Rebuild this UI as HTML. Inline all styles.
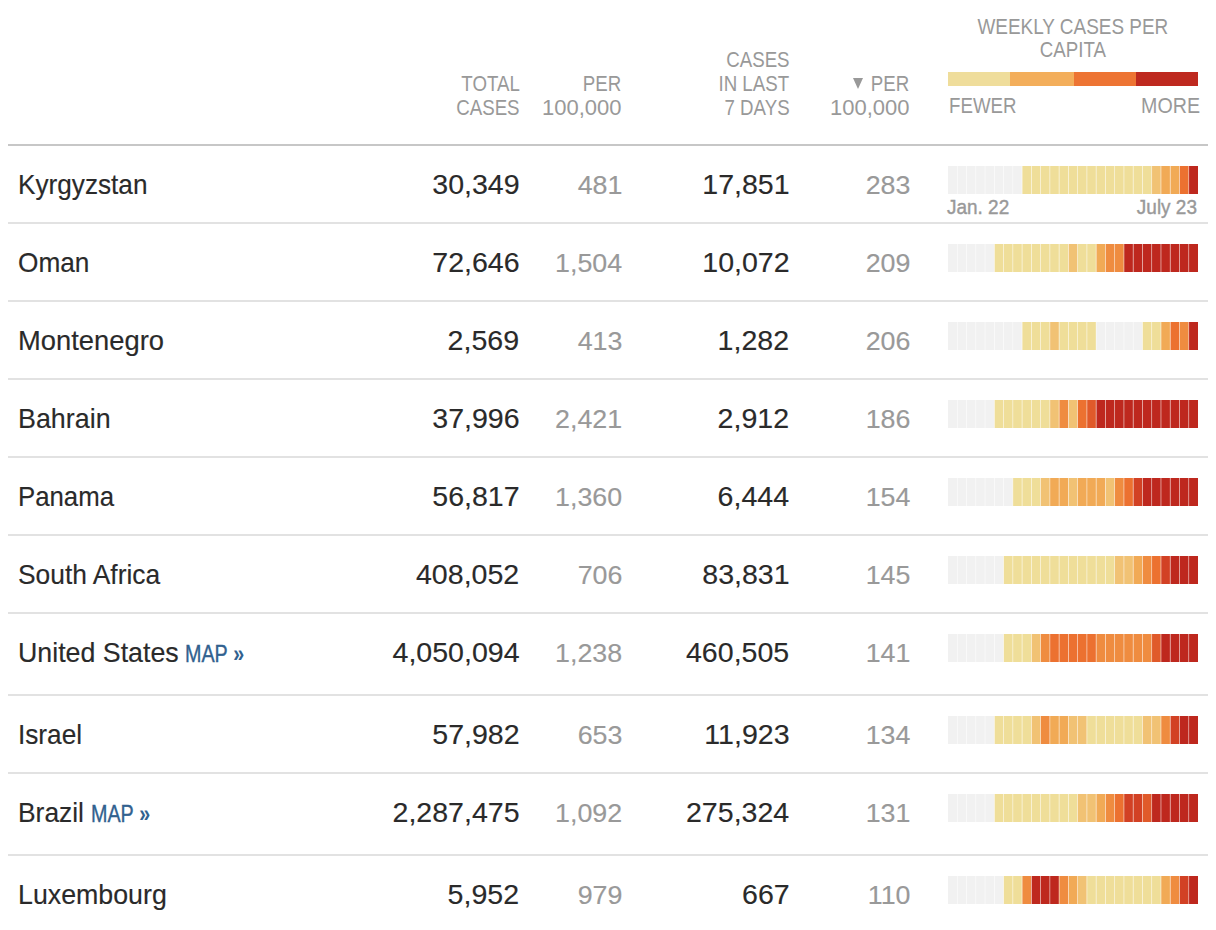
<!DOCTYPE html>
<html><head><meta charset="utf-8"><style>
html,body{margin:0;padding:0;background:#fff;}
body{width:1216px;height:930px;overflow:hidden;position:relative;font-family:"Liberation Sans",sans-serif;}
.t{position:absolute;white-space:nowrap;}
.bar{position:absolute;display:block;}
.leg{position:absolute;height:14px;}
.hl{position:absolute;left:8px;width:1200px;height:2px;}
.map{-webkit-text-stroke:0.35px #31618f;}
.tri{position:absolute;width:0;height:0;border-left:5.9px solid transparent;border-right:5.9px solid transparent;border-top:11.8px solid #999;}
</style></head><body>
<div class="t" style="right:696.5px;top:72.68px;font-size:22px;line-height:22px;color:#999;font-weight:normal;transform:scaleX(0.85);transform-origin:right center;">TOTAL</div>
<div class="t" style="right:696.5px;top:96.68px;font-size:22px;line-height:22px;color:#999;font-weight:normal;transform:scaleX(0.85);transform-origin:right center;">CASES</div>
<div class="t" style="right:594.5px;top:72.68px;font-size:22px;line-height:22px;color:#999;font-weight:normal;transform:scaleX(0.85);transform-origin:right center;">PER</div>
<div class="t" style="right:594.5px;top:96.68px;font-size:22px;line-height:22px;color:#999;font-weight:normal;">100,000</div>
<div class="t" style="right:426.5px;top:48.68px;font-size:22px;line-height:22px;color:#999;font-weight:normal;transform:scaleX(0.85);transform-origin:right center;">CASES</div>
<div class="t" style="right:426.5px;top:72.68px;font-size:22px;line-height:22px;color:#999;font-weight:normal;transform:scaleX(0.85);transform-origin:right center;">IN LAST</div>
<div class="t" style="right:426.5px;top:96.68px;font-size:22px;line-height:22px;color:#999;font-weight:normal;transform:scaleX(0.85);transform-origin:right center;">7 DAYS</div>
<div class="t" style="right:306.5px;top:72.68px;font-size:22px;line-height:22px;color:#999;font-weight:normal;transform:scaleX(0.85);transform-origin:right center;">PER</div>
<div class="tri" style="left:853px;top:78px"></div>
<div class="t" style="right:306.5px;top:96.68px;font-size:22px;line-height:22px;color:#999;font-weight:normal;">100,000</div>
<div class="t" style="left:773px;width:600px;text-align:center;top:15.78px;font-size:22px;line-height:22px;color:#999;"><span style="display:inline-block;transform:scaleX(0.861);transform-origin:center center;">WEEKLY CASES PER</span></div>
<div class="t" style="left:773.2px;width:600px;text-align:center;top:39.38px;font-size:22px;line-height:22px;color:#999;"><span style="display:inline-block;transform:scaleX(0.85);transform-origin:center center;">CAPITA</span></div>
<div class="leg" style="left:948px;top:72px;width:62px;background:#efdd9b"></div>
<div class="leg" style="left:1010px;top:72px;width:64px;background:#f3ae5b"></div>
<div class="leg" style="left:1074px;top:72px;width:62px;background:#ed7433"></div>
<div class="leg" style="left:1136px;top:72px;width:62px;background:#be291f"></div>
<div class="t" style="left:948.5px;top:95.18px;font-size:22px;line-height:22px;color:#999;font-weight:normal;transform:scaleX(0.85);transform-origin:left center;">FEWER</div>
<div class="t" style="right:15.799999999999955px;top:95.18px;font-size:22px;line-height:22px;color:#999;font-weight:normal;transform:scaleX(0.893);transform-origin:right center;">MORE</div>
<div class="hl" style="top:144px;background:#c7c7c7"></div>
<div class="t" style="left:17.53px;top:170.50px;font-size:28px;line-height:28px;color:#2a2a2a;font-weight:normal;transform:scaleX(0.9348);transform-origin:left center;-webkit-text-stroke:0.15px #2a2a2a;">Kyrgyzstan</div>
<div class="t" style="right:696.5px;top:170.50px;font-size:28px;line-height:28px;color:#2a2a2a;font-weight:normal;transform:scaleX(1.02);transform-origin:right center;-webkit-text-stroke:0.15px #2a2a2a;">30,349</div>
<div class="t" style="right:594px;top:172.19px;font-size:26px;line-height:26px;color:#999;font-weight:normal;transform:scaleX(1.03);transform-origin:right center;-webkit-text-stroke:0.15px #999;">481</div>
<div class="t" style="right:426.5px;top:170.50px;font-size:28px;line-height:28px;color:#2a2a2a;font-weight:normal;transform:scaleX(1.02);transform-origin:right center;-webkit-text-stroke:0.15px #2a2a2a;">17,851</div>
<div class="t" style="right:306px;top:172.19px;font-size:26px;line-height:26px;color:#999;font-weight:normal;transform:scaleX(1.03);transform-origin:right center;-webkit-text-stroke:0.15px #999;">283</div>
<svg class="bar" style="left:948px;top:166px" width="250" height="28" viewBox="0 0 250 28"><rect x="0.000" y="0" width="9.559" height="28" fill="#f1f1f1"/><rect x="9.259" y="0" width="9.559" height="28" fill="#f1f1f1"/><rect x="18.519" y="0" width="9.559" height="28" fill="#f1f1f1"/><rect x="27.778" y="0" width="9.559" height="28" fill="#f1f1f1"/><rect x="37.037" y="0" width="9.559" height="28" fill="#f1f1f1"/><rect x="46.296" y="0" width="9.559" height="28" fill="#f1f1f1"/><rect x="55.556" y="0" width="9.559" height="28" fill="#f1f1f1"/><rect x="64.815" y="0" width="9.559" height="28" fill="#f1f1f1"/><rect x="74.074" y="0" width="9.559" height="28" fill="#efde99"/><rect x="83.333" y="0" width="9.559" height="28" fill="#efde99"/><rect x="92.593" y="0" width="9.559" height="28" fill="#efde99"/><rect x="101.852" y="0" width="9.559" height="28" fill="#efde99"/><rect x="111.111" y="0" width="9.559" height="28" fill="#efde99"/><rect x="120.370" y="0" width="9.559" height="28" fill="#efde99"/><rect x="129.630" y="0" width="9.559" height="28" fill="#efde99"/><rect x="138.889" y="0" width="9.559" height="28" fill="#efde99"/><rect x="148.148" y="0" width="9.559" height="28" fill="#efde99"/><rect x="157.407" y="0" width="9.559" height="28" fill="#efde99"/><rect x="166.667" y="0" width="9.559" height="28" fill="#efde99"/><rect x="175.926" y="0" width="9.559" height="28" fill="#efde99"/><rect x="185.185" y="0" width="9.559" height="28" fill="#efde99"/><rect x="194.444" y="0" width="9.559" height="28" fill="#efde99"/><rect x="203.704" y="0" width="9.559" height="28" fill="#f1c274"/><rect x="212.963" y="0" width="9.559" height="28" fill="#f1aa56"/><rect x="222.222" y="0" width="9.559" height="28" fill="#f1aa56"/><rect x="231.481" y="0" width="9.559" height="28" fill="#ec7130"/><rect x="240.741" y="0" width="9.259" height="28" fill="#be281e"/><rect x="8.909" y="0" width="0.7" height="28" fill="#fff" fill-opacity="0.75"/><rect x="18.169" y="0" width="0.7" height="28" fill="#fff" fill-opacity="0.75"/><rect x="27.428" y="0" width="0.7" height="28" fill="#fff" fill-opacity="0.75"/><rect x="36.687" y="0" width="0.7" height="28" fill="#fff" fill-opacity="0.75"/><rect x="45.946" y="0" width="0.7" height="28" fill="#fff" fill-opacity="0.75"/><rect x="55.206" y="0" width="0.7" height="28" fill="#fff" fill-opacity="0.75"/><rect x="64.465" y="0" width="0.7" height="28" fill="#fff" fill-opacity="0.75"/><rect x="73.724" y="0" width="0.7" height="28" fill="#fff" fill-opacity="0.75"/><rect x="82.983" y="0" width="0.7" height="28" fill="#fff" fill-opacity="0.75"/><rect x="92.243" y="0" width="0.7" height="28" fill="#fff" fill-opacity="0.75"/><rect x="101.502" y="0" width="0.7" height="28" fill="#fff" fill-opacity="0.75"/><rect x="110.761" y="0" width="0.7" height="28" fill="#fff" fill-opacity="0.75"/><rect x="120.020" y="0" width="0.7" height="28" fill="#fff" fill-opacity="0.75"/><rect x="129.280" y="0" width="0.7" height="28" fill="#fff" fill-opacity="0.75"/><rect x="138.539" y="0" width="0.7" height="28" fill="#fff" fill-opacity="0.75"/><rect x="147.798" y="0" width="0.7" height="28" fill="#fff" fill-opacity="0.75"/><rect x="157.057" y="0" width="0.7" height="28" fill="#fff" fill-opacity="0.75"/><rect x="166.317" y="0" width="0.7" height="28" fill="#fff" fill-opacity="0.75"/><rect x="175.576" y="0" width="0.7" height="28" fill="#fff" fill-opacity="0.75"/><rect x="184.835" y="0" width="0.7" height="28" fill="#fff" fill-opacity="0.75"/><rect x="194.094" y="0" width="0.7" height="28" fill="#fff" fill-opacity="0.75"/><rect x="203.354" y="0" width="0.7" height="28" fill="#fff" fill-opacity="0.75"/><rect x="212.613" y="0" width="0.7" height="28" fill="#fff" fill-opacity="0.75"/><rect x="221.872" y="0" width="0.7" height="28" fill="#fff" fill-opacity="0.75"/><rect x="231.131" y="0" width="0.7" height="28" fill="#fff" fill-opacity="0.75"/><rect x="240.391" y="0" width="0.7" height="28" fill="#fff" fill-opacity="0.75"/></svg>
<div class="hl" style="top:222px;background:#e2e2e2"></div>
<div class="t" style="left:17.76px;top:248.50px;font-size:28px;line-height:28px;color:#2a2a2a;font-weight:normal;transform:scaleX(0.9365);transform-origin:left center;-webkit-text-stroke:0.15px #2a2a2a;">Oman</div>
<div class="t" style="right:696.5px;top:248.50px;font-size:28px;line-height:28px;color:#2a2a2a;font-weight:normal;transform:scaleX(1.02);transform-origin:right center;-webkit-text-stroke:0.15px #2a2a2a;">72,646</div>
<div class="t" style="right:594px;top:250.19px;font-size:26px;line-height:26px;color:#999;font-weight:normal;transform:scaleX(1.03);transform-origin:right center;-webkit-text-stroke:0.15px #999;">1,504</div>
<div class="t" style="right:426.5px;top:248.50px;font-size:28px;line-height:28px;color:#2a2a2a;font-weight:normal;transform:scaleX(1.02);transform-origin:right center;-webkit-text-stroke:0.15px #2a2a2a;">10,072</div>
<div class="t" style="right:306px;top:250.19px;font-size:26px;line-height:26px;color:#999;font-weight:normal;transform:scaleX(1.03);transform-origin:right center;-webkit-text-stroke:0.15px #999;">209</div>
<svg class="bar" style="left:948px;top:244px" width="250" height="28" viewBox="0 0 250 28"><rect x="0.000" y="0" width="9.559" height="28" fill="#f1f1f1"/><rect x="9.259" y="0" width="9.559" height="28" fill="#f1f1f1"/><rect x="18.519" y="0" width="9.559" height="28" fill="#f1f1f1"/><rect x="27.778" y="0" width="9.559" height="28" fill="#f1f1f1"/><rect x="37.037" y="0" width="9.559" height="28" fill="#f1f1f1"/><rect x="46.296" y="0" width="9.559" height="28" fill="#efde99"/><rect x="55.556" y="0" width="9.559" height="28" fill="#efde99"/><rect x="64.815" y="0" width="9.559" height="28" fill="#efde99"/><rect x="74.074" y="0" width="9.559" height="28" fill="#efde99"/><rect x="83.333" y="0" width="9.559" height="28" fill="#efde99"/><rect x="92.593" y="0" width="9.559" height="28" fill="#efde99"/><rect x="101.852" y="0" width="9.559" height="28" fill="#efde99"/><rect x="111.111" y="0" width="9.559" height="28" fill="#efde99"/><rect x="120.370" y="0" width="9.559" height="28" fill="#f1c274"/><rect x="129.630" y="0" width="9.559" height="28" fill="#efde99"/><rect x="138.889" y="0" width="9.559" height="28" fill="#efde99"/><rect x="148.148" y="0" width="9.559" height="28" fill="#f1aa56"/><rect x="157.407" y="0" width="9.559" height="28" fill="#ef8c40"/><rect x="166.667" y="0" width="9.559" height="28" fill="#ef8c40"/><rect x="175.926" y="0" width="9.559" height="28" fill="#be281e"/><rect x="185.185" y="0" width="9.559" height="28" fill="#be281e"/><rect x="194.444" y="0" width="9.559" height="28" fill="#be281e"/><rect x="203.704" y="0" width="9.559" height="28" fill="#be281e"/><rect x="212.963" y="0" width="9.559" height="28" fill="#be281e"/><rect x="222.222" y="0" width="9.559" height="28" fill="#be281e"/><rect x="231.481" y="0" width="9.559" height="28" fill="#be281e"/><rect x="240.741" y="0" width="9.259" height="28" fill="#be281e"/><rect x="8.909" y="0" width="0.7" height="28" fill="#fff" fill-opacity="0.75"/><rect x="18.169" y="0" width="0.7" height="28" fill="#fff" fill-opacity="0.75"/><rect x="27.428" y="0" width="0.7" height="28" fill="#fff" fill-opacity="0.75"/><rect x="36.687" y="0" width="0.7" height="28" fill="#fff" fill-opacity="0.75"/><rect x="45.946" y="0" width="0.7" height="28" fill="#fff" fill-opacity="0.75"/><rect x="55.206" y="0" width="0.7" height="28" fill="#fff" fill-opacity="0.75"/><rect x="64.465" y="0" width="0.7" height="28" fill="#fff" fill-opacity="0.75"/><rect x="73.724" y="0" width="0.7" height="28" fill="#fff" fill-opacity="0.75"/><rect x="82.983" y="0" width="0.7" height="28" fill="#fff" fill-opacity="0.75"/><rect x="92.243" y="0" width="0.7" height="28" fill="#fff" fill-opacity="0.75"/><rect x="101.502" y="0" width="0.7" height="28" fill="#fff" fill-opacity="0.75"/><rect x="110.761" y="0" width="0.7" height="28" fill="#fff" fill-opacity="0.75"/><rect x="120.020" y="0" width="0.7" height="28" fill="#fff" fill-opacity="0.75"/><rect x="129.280" y="0" width="0.7" height="28" fill="#fff" fill-opacity="0.75"/><rect x="138.539" y="0" width="0.7" height="28" fill="#fff" fill-opacity="0.75"/><rect x="147.798" y="0" width="0.7" height="28" fill="#fff" fill-opacity="0.75"/><rect x="157.057" y="0" width="0.7" height="28" fill="#fff" fill-opacity="0.75"/><rect x="166.317" y="0" width="0.7" height="28" fill="#fff" fill-opacity="0.75"/><rect x="175.576" y="0" width="0.7" height="28" fill="#fff" fill-opacity="0.75"/><rect x="184.835" y="0" width="0.7" height="28" fill="#fff" fill-opacity="0.75"/><rect x="194.094" y="0" width="0.7" height="28" fill="#fff" fill-opacity="0.75"/><rect x="203.354" y="0" width="0.7" height="28" fill="#fff" fill-opacity="0.75"/><rect x="212.613" y="0" width="0.7" height="28" fill="#fff" fill-opacity="0.75"/><rect x="221.872" y="0" width="0.7" height="28" fill="#fff" fill-opacity="0.75"/><rect x="231.131" y="0" width="0.7" height="28" fill="#fff" fill-opacity="0.75"/><rect x="240.391" y="0" width="0.7" height="28" fill="#fff" fill-opacity="0.75"/></svg>
<div class="hl" style="top:300px;background:#e2e2e2"></div>
<div class="t" style="left:17.55px;top:326.50px;font-size:28px;line-height:28px;color:#2a2a2a;font-weight:normal;transform:scaleX(0.9767);transform-origin:left center;-webkit-text-stroke:0.15px #2a2a2a;">Montenegro</div>
<div class="t" style="right:696.5px;top:326.50px;font-size:28px;line-height:28px;color:#2a2a2a;font-weight:normal;transform:scaleX(1.02);transform-origin:right center;-webkit-text-stroke:0.15px #2a2a2a;">2,569</div>
<div class="t" style="right:594px;top:328.19px;font-size:26px;line-height:26px;color:#999;font-weight:normal;transform:scaleX(1.03);transform-origin:right center;-webkit-text-stroke:0.15px #999;">413</div>
<div class="t" style="right:426.5px;top:326.50px;font-size:28px;line-height:28px;color:#2a2a2a;font-weight:normal;transform:scaleX(1.02);transform-origin:right center;-webkit-text-stroke:0.15px #2a2a2a;">1,282</div>
<div class="t" style="right:306px;top:328.19px;font-size:26px;line-height:26px;color:#999;font-weight:normal;transform:scaleX(1.03);transform-origin:right center;-webkit-text-stroke:0.15px #999;">206</div>
<svg class="bar" style="left:948px;top:322px" width="250" height="28" viewBox="0 0 250 28"><rect x="0.000" y="0" width="9.559" height="28" fill="#f1f1f1"/><rect x="9.259" y="0" width="9.559" height="28" fill="#f1f1f1"/><rect x="18.519" y="0" width="9.559" height="28" fill="#f1f1f1"/><rect x="27.778" y="0" width="9.559" height="28" fill="#f1f1f1"/><rect x="37.037" y="0" width="9.559" height="28" fill="#f1f1f1"/><rect x="46.296" y="0" width="9.559" height="28" fill="#f1f1f1"/><rect x="55.556" y="0" width="9.559" height="28" fill="#f1f1f1"/><rect x="64.815" y="0" width="9.559" height="28" fill="#f1f1f1"/><rect x="74.074" y="0" width="9.559" height="28" fill="#efde99"/><rect x="83.333" y="0" width="9.559" height="28" fill="#efde99"/><rect x="92.593" y="0" width="9.559" height="28" fill="#efde99"/><rect x="101.852" y="0" width="9.559" height="28" fill="#f1c274"/><rect x="111.111" y="0" width="9.559" height="28" fill="#efde99"/><rect x="120.370" y="0" width="9.559" height="28" fill="#efde99"/><rect x="129.630" y="0" width="9.559" height="28" fill="#efde99"/><rect x="138.889" y="0" width="9.559" height="28" fill="#efde99"/><rect x="148.148" y="0" width="9.559" height="28" fill="#f1f1f1"/><rect x="157.407" y="0" width="9.559" height="28" fill="#f1f1f1"/><rect x="166.667" y="0" width="9.559" height="28" fill="#f1f1f1"/><rect x="175.926" y="0" width="9.559" height="28" fill="#f1f1f1"/><rect x="185.185" y="0" width="9.559" height="28" fill="#f1f1f1"/><rect x="194.444" y="0" width="9.559" height="28" fill="#efde99"/><rect x="203.704" y="0" width="9.559" height="28" fill="#efde99"/><rect x="212.963" y="0" width="9.559" height="28" fill="#f1aa56"/><rect x="222.222" y="0" width="9.559" height="28" fill="#ec7130"/><rect x="231.481" y="0" width="9.559" height="28" fill="#ef8c40"/><rect x="240.741" y="0" width="9.259" height="28" fill="#be281e"/><rect x="8.909" y="0" width="0.7" height="28" fill="#fff" fill-opacity="0.75"/><rect x="18.169" y="0" width="0.7" height="28" fill="#fff" fill-opacity="0.75"/><rect x="27.428" y="0" width="0.7" height="28" fill="#fff" fill-opacity="0.75"/><rect x="36.687" y="0" width="0.7" height="28" fill="#fff" fill-opacity="0.75"/><rect x="45.946" y="0" width="0.7" height="28" fill="#fff" fill-opacity="0.75"/><rect x="55.206" y="0" width="0.7" height="28" fill="#fff" fill-opacity="0.75"/><rect x="64.465" y="0" width="0.7" height="28" fill="#fff" fill-opacity="0.75"/><rect x="73.724" y="0" width="0.7" height="28" fill="#fff" fill-opacity="0.75"/><rect x="82.983" y="0" width="0.7" height="28" fill="#fff" fill-opacity="0.75"/><rect x="92.243" y="0" width="0.7" height="28" fill="#fff" fill-opacity="0.75"/><rect x="101.502" y="0" width="0.7" height="28" fill="#fff" fill-opacity="0.75"/><rect x="110.761" y="0" width="0.7" height="28" fill="#fff" fill-opacity="0.75"/><rect x="120.020" y="0" width="0.7" height="28" fill="#fff" fill-opacity="0.75"/><rect x="129.280" y="0" width="0.7" height="28" fill="#fff" fill-opacity="0.75"/><rect x="138.539" y="0" width="0.7" height="28" fill="#fff" fill-opacity="0.75"/><rect x="147.798" y="0" width="0.7" height="28" fill="#fff" fill-opacity="0.75"/><rect x="157.057" y="0" width="0.7" height="28" fill="#fff" fill-opacity="0.75"/><rect x="166.317" y="0" width="0.7" height="28" fill="#fff" fill-opacity="0.75"/><rect x="175.576" y="0" width="0.7" height="28" fill="#fff" fill-opacity="0.75"/><rect x="184.835" y="0" width="0.7" height="28" fill="#fff" fill-opacity="0.75"/><rect x="194.094" y="0" width="0.7" height="28" fill="#fff" fill-opacity="0.75"/><rect x="203.354" y="0" width="0.7" height="28" fill="#fff" fill-opacity="0.75"/><rect x="212.613" y="0" width="0.7" height="28" fill="#fff" fill-opacity="0.75"/><rect x="221.872" y="0" width="0.7" height="28" fill="#fff" fill-opacity="0.75"/><rect x="231.131" y="0" width="0.7" height="28" fill="#fff" fill-opacity="0.75"/><rect x="240.391" y="0" width="0.7" height="28" fill="#fff" fill-opacity="0.75"/></svg>
<div class="hl" style="top:378px;background:#e2e2e2"></div>
<div class="t" style="left:17.88px;top:404.50px;font-size:28px;line-height:28px;color:#2a2a2a;font-weight:normal;transform:scaleX(0.9591);transform-origin:left center;-webkit-text-stroke:0.15px #2a2a2a;">Bahrain</div>
<div class="t" style="right:696.5px;top:404.50px;font-size:28px;line-height:28px;color:#2a2a2a;font-weight:normal;transform:scaleX(1.02);transform-origin:right center;-webkit-text-stroke:0.15px #2a2a2a;">37,996</div>
<div class="t" style="right:594px;top:406.19px;font-size:26px;line-height:26px;color:#999;font-weight:normal;transform:scaleX(1.03);transform-origin:right center;-webkit-text-stroke:0.15px #999;">2,421</div>
<div class="t" style="right:426.5px;top:404.50px;font-size:28px;line-height:28px;color:#2a2a2a;font-weight:normal;transform:scaleX(1.02);transform-origin:right center;-webkit-text-stroke:0.15px #2a2a2a;">2,912</div>
<div class="t" style="right:306px;top:406.19px;font-size:26px;line-height:26px;color:#999;font-weight:normal;transform:scaleX(1.03);transform-origin:right center;-webkit-text-stroke:0.15px #999;">186</div>
<svg class="bar" style="left:948px;top:400px" width="250" height="28" viewBox="0 0 250 28"><rect x="0.000" y="0" width="9.559" height="28" fill="#f1f1f1"/><rect x="9.259" y="0" width="9.559" height="28" fill="#f1f1f1"/><rect x="18.519" y="0" width="9.559" height="28" fill="#f1f1f1"/><rect x="27.778" y="0" width="9.559" height="28" fill="#f1f1f1"/><rect x="37.037" y="0" width="9.559" height="28" fill="#f1f1f1"/><rect x="46.296" y="0" width="9.559" height="28" fill="#efde99"/><rect x="55.556" y="0" width="9.559" height="28" fill="#efde99"/><rect x="64.815" y="0" width="9.559" height="28" fill="#efde99"/><rect x="74.074" y="0" width="9.559" height="28" fill="#efde99"/><rect x="83.333" y="0" width="9.559" height="28" fill="#efde99"/><rect x="92.593" y="0" width="9.559" height="28" fill="#efde99"/><rect x="101.852" y="0" width="9.559" height="28" fill="#f1c274"/><rect x="111.111" y="0" width="9.559" height="28" fill="#ef8c40"/><rect x="120.370" y="0" width="9.559" height="28" fill="#f1c274"/><rect x="129.630" y="0" width="9.559" height="28" fill="#ec7130"/><rect x="138.889" y="0" width="9.559" height="28" fill="#e05a2a"/><rect x="148.148" y="0" width="9.559" height="28" fill="#be281e"/><rect x="157.407" y="0" width="9.559" height="28" fill="#be281e"/><rect x="166.667" y="0" width="9.559" height="28" fill="#be281e"/><rect x="175.926" y="0" width="9.559" height="28" fill="#be281e"/><rect x="185.185" y="0" width="9.559" height="28" fill="#be281e"/><rect x="194.444" y="0" width="9.559" height="28" fill="#be281e"/><rect x="203.704" y="0" width="9.559" height="28" fill="#be281e"/><rect x="212.963" y="0" width="9.559" height="28" fill="#be281e"/><rect x="222.222" y="0" width="9.559" height="28" fill="#be281e"/><rect x="231.481" y="0" width="9.559" height="28" fill="#be281e"/><rect x="240.741" y="0" width="9.259" height="28" fill="#be281e"/><rect x="8.909" y="0" width="0.7" height="28" fill="#fff" fill-opacity="0.75"/><rect x="18.169" y="0" width="0.7" height="28" fill="#fff" fill-opacity="0.75"/><rect x="27.428" y="0" width="0.7" height="28" fill="#fff" fill-opacity="0.75"/><rect x="36.687" y="0" width="0.7" height="28" fill="#fff" fill-opacity="0.75"/><rect x="45.946" y="0" width="0.7" height="28" fill="#fff" fill-opacity="0.75"/><rect x="55.206" y="0" width="0.7" height="28" fill="#fff" fill-opacity="0.75"/><rect x="64.465" y="0" width="0.7" height="28" fill="#fff" fill-opacity="0.75"/><rect x="73.724" y="0" width="0.7" height="28" fill="#fff" fill-opacity="0.75"/><rect x="82.983" y="0" width="0.7" height="28" fill="#fff" fill-opacity="0.75"/><rect x="92.243" y="0" width="0.7" height="28" fill="#fff" fill-opacity="0.75"/><rect x="101.502" y="0" width="0.7" height="28" fill="#fff" fill-opacity="0.75"/><rect x="110.761" y="0" width="0.7" height="28" fill="#fff" fill-opacity="0.75"/><rect x="120.020" y="0" width="0.7" height="28" fill="#fff" fill-opacity="0.75"/><rect x="129.280" y="0" width="0.7" height="28" fill="#fff" fill-opacity="0.75"/><rect x="138.539" y="0" width="0.7" height="28" fill="#fff" fill-opacity="0.75"/><rect x="147.798" y="0" width="0.7" height="28" fill="#fff" fill-opacity="0.75"/><rect x="157.057" y="0" width="0.7" height="28" fill="#fff" fill-opacity="0.75"/><rect x="166.317" y="0" width="0.7" height="28" fill="#fff" fill-opacity="0.75"/><rect x="175.576" y="0" width="0.7" height="28" fill="#fff" fill-opacity="0.75"/><rect x="184.835" y="0" width="0.7" height="28" fill="#fff" fill-opacity="0.75"/><rect x="194.094" y="0" width="0.7" height="28" fill="#fff" fill-opacity="0.75"/><rect x="203.354" y="0" width="0.7" height="28" fill="#fff" fill-opacity="0.75"/><rect x="212.613" y="0" width="0.7" height="28" fill="#fff" fill-opacity="0.75"/><rect x="221.872" y="0" width="0.7" height="28" fill="#fff" fill-opacity="0.75"/><rect x="231.131" y="0" width="0.7" height="28" fill="#fff" fill-opacity="0.75"/><rect x="240.391" y="0" width="0.7" height="28" fill="#fff" fill-opacity="0.75"/></svg>
<div class="hl" style="top:456px;background:#e2e2e2"></div>
<div class="t" style="left:17.96px;top:482.50px;font-size:28px;line-height:28px;color:#2a2a2a;font-weight:normal;transform:scaleX(0.9206);transform-origin:left center;-webkit-text-stroke:0.15px #2a2a2a;">Panama</div>
<div class="t" style="right:696.5px;top:482.50px;font-size:28px;line-height:28px;color:#2a2a2a;font-weight:normal;transform:scaleX(1.02);transform-origin:right center;-webkit-text-stroke:0.15px #2a2a2a;">56,817</div>
<div class="t" style="right:594px;top:484.19px;font-size:26px;line-height:26px;color:#999;font-weight:normal;transform:scaleX(1.03);transform-origin:right center;-webkit-text-stroke:0.15px #999;">1,360</div>
<div class="t" style="right:426.5px;top:482.50px;font-size:28px;line-height:28px;color:#2a2a2a;font-weight:normal;transform:scaleX(1.02);transform-origin:right center;-webkit-text-stroke:0.15px #2a2a2a;">6,444</div>
<div class="t" style="right:306px;top:484.19px;font-size:26px;line-height:26px;color:#999;font-weight:normal;transform:scaleX(1.03);transform-origin:right center;-webkit-text-stroke:0.15px #999;">154</div>
<svg class="bar" style="left:948px;top:478px" width="250" height="28" viewBox="0 0 250 28"><rect x="0.000" y="0" width="9.559" height="28" fill="#f1f1f1"/><rect x="9.259" y="0" width="9.559" height="28" fill="#f1f1f1"/><rect x="18.519" y="0" width="9.559" height="28" fill="#f1f1f1"/><rect x="27.778" y="0" width="9.559" height="28" fill="#f1f1f1"/><rect x="37.037" y="0" width="9.559" height="28" fill="#f1f1f1"/><rect x="46.296" y="0" width="9.559" height="28" fill="#f1f1f1"/><rect x="55.556" y="0" width="9.559" height="28" fill="#f1f1f1"/><rect x="64.815" y="0" width="9.559" height="28" fill="#efde99"/><rect x="74.074" y="0" width="9.559" height="28" fill="#efde99"/><rect x="83.333" y="0" width="9.559" height="28" fill="#efde99"/><rect x="92.593" y="0" width="9.559" height="28" fill="#f1c274"/><rect x="101.852" y="0" width="9.559" height="28" fill="#f1aa56"/><rect x="111.111" y="0" width="9.559" height="28" fill="#f1aa56"/><rect x="120.370" y="0" width="9.559" height="28" fill="#f1c274"/><rect x="129.630" y="0" width="9.559" height="28" fill="#f1aa56"/><rect x="138.889" y="0" width="9.559" height="28" fill="#f1aa56"/><rect x="148.148" y="0" width="9.559" height="28" fill="#f1aa56"/><rect x="157.407" y="0" width="9.559" height="28" fill="#f1c274"/><rect x="166.667" y="0" width="9.559" height="28" fill="#ef8c40"/><rect x="175.926" y="0" width="9.559" height="28" fill="#ec7130"/><rect x="185.185" y="0" width="9.559" height="28" fill="#d24124"/><rect x="194.444" y="0" width="9.559" height="28" fill="#be281e"/><rect x="203.704" y="0" width="9.559" height="28" fill="#be281e"/><rect x="212.963" y="0" width="9.559" height="28" fill="#be281e"/><rect x="222.222" y="0" width="9.559" height="28" fill="#be281e"/><rect x="231.481" y="0" width="9.559" height="28" fill="#be281e"/><rect x="240.741" y="0" width="9.259" height="28" fill="#be281e"/><rect x="8.909" y="0" width="0.7" height="28" fill="#fff" fill-opacity="0.75"/><rect x="18.169" y="0" width="0.7" height="28" fill="#fff" fill-opacity="0.75"/><rect x="27.428" y="0" width="0.7" height="28" fill="#fff" fill-opacity="0.75"/><rect x="36.687" y="0" width="0.7" height="28" fill="#fff" fill-opacity="0.75"/><rect x="45.946" y="0" width="0.7" height="28" fill="#fff" fill-opacity="0.75"/><rect x="55.206" y="0" width="0.7" height="28" fill="#fff" fill-opacity="0.75"/><rect x="64.465" y="0" width="0.7" height="28" fill="#fff" fill-opacity="0.75"/><rect x="73.724" y="0" width="0.7" height="28" fill="#fff" fill-opacity="0.75"/><rect x="82.983" y="0" width="0.7" height="28" fill="#fff" fill-opacity="0.75"/><rect x="92.243" y="0" width="0.7" height="28" fill="#fff" fill-opacity="0.75"/><rect x="101.502" y="0" width="0.7" height="28" fill="#fff" fill-opacity="0.75"/><rect x="110.761" y="0" width="0.7" height="28" fill="#fff" fill-opacity="0.75"/><rect x="120.020" y="0" width="0.7" height="28" fill="#fff" fill-opacity="0.75"/><rect x="129.280" y="0" width="0.7" height="28" fill="#fff" fill-opacity="0.75"/><rect x="138.539" y="0" width="0.7" height="28" fill="#fff" fill-opacity="0.75"/><rect x="147.798" y="0" width="0.7" height="28" fill="#fff" fill-opacity="0.75"/><rect x="157.057" y="0" width="0.7" height="28" fill="#fff" fill-opacity="0.75"/><rect x="166.317" y="0" width="0.7" height="28" fill="#fff" fill-opacity="0.75"/><rect x="175.576" y="0" width="0.7" height="28" fill="#fff" fill-opacity="0.75"/><rect x="184.835" y="0" width="0.7" height="28" fill="#fff" fill-opacity="0.75"/><rect x="194.094" y="0" width="0.7" height="28" fill="#fff" fill-opacity="0.75"/><rect x="203.354" y="0" width="0.7" height="28" fill="#fff" fill-opacity="0.75"/><rect x="212.613" y="0" width="0.7" height="28" fill="#fff" fill-opacity="0.75"/><rect x="221.872" y="0" width="0.7" height="28" fill="#fff" fill-opacity="0.75"/><rect x="231.131" y="0" width="0.7" height="28" fill="#fff" fill-opacity="0.75"/><rect x="240.391" y="0" width="0.7" height="28" fill="#fff" fill-opacity="0.75"/></svg>
<div class="hl" style="top:534px;background:#e2e2e2"></div>
<div class="t" style="left:17.76px;top:560.50px;font-size:28px;line-height:28px;color:#2a2a2a;font-weight:normal;transform:scaleX(0.9413);transform-origin:left center;-webkit-text-stroke:0.15px #2a2a2a;">South Africa</div>
<div class="t" style="right:696.5px;top:560.50px;font-size:28px;line-height:28px;color:#2a2a2a;font-weight:normal;transform:scaleX(1.02);transform-origin:right center;-webkit-text-stroke:0.15px #2a2a2a;">408,052</div>
<div class="t" style="right:594px;top:562.19px;font-size:26px;line-height:26px;color:#999;font-weight:normal;transform:scaleX(1.03);transform-origin:right center;-webkit-text-stroke:0.15px #999;">706</div>
<div class="t" style="right:426.5px;top:560.50px;font-size:28px;line-height:28px;color:#2a2a2a;font-weight:normal;transform:scaleX(1.02);transform-origin:right center;-webkit-text-stroke:0.15px #2a2a2a;">83,831</div>
<div class="t" style="right:306px;top:562.19px;font-size:26px;line-height:26px;color:#999;font-weight:normal;transform:scaleX(1.03);transform-origin:right center;-webkit-text-stroke:0.15px #999;">145</div>
<svg class="bar" style="left:948px;top:556px" width="250" height="28" viewBox="0 0 250 28"><rect x="0.000" y="0" width="9.559" height="28" fill="#f1f1f1"/><rect x="9.259" y="0" width="9.559" height="28" fill="#f1f1f1"/><rect x="18.519" y="0" width="9.559" height="28" fill="#f1f1f1"/><rect x="27.778" y="0" width="9.559" height="28" fill="#f1f1f1"/><rect x="37.037" y="0" width="9.559" height="28" fill="#f1f1f1"/><rect x="46.296" y="0" width="9.559" height="28" fill="#f1f1f1"/><rect x="55.556" y="0" width="9.559" height="28" fill="#efde99"/><rect x="64.815" y="0" width="9.559" height="28" fill="#efde99"/><rect x="74.074" y="0" width="9.559" height="28" fill="#efde99"/><rect x="83.333" y="0" width="9.559" height="28" fill="#efde99"/><rect x="92.593" y="0" width="9.559" height="28" fill="#efde99"/><rect x="101.852" y="0" width="9.559" height="28" fill="#efde99"/><rect x="111.111" y="0" width="9.559" height="28" fill="#efde99"/><rect x="120.370" y="0" width="9.559" height="28" fill="#efde99"/><rect x="129.630" y="0" width="9.559" height="28" fill="#efde99"/><rect x="138.889" y="0" width="9.559" height="28" fill="#efde99"/><rect x="148.148" y="0" width="9.559" height="28" fill="#efde99"/><rect x="157.407" y="0" width="9.559" height="28" fill="#efde99"/><rect x="166.667" y="0" width="9.559" height="28" fill="#f1c274"/><rect x="175.926" y="0" width="9.559" height="28" fill="#f1c274"/><rect x="185.185" y="0" width="9.559" height="28" fill="#f1aa56"/><rect x="194.444" y="0" width="9.559" height="28" fill="#ef8c40"/><rect x="203.704" y="0" width="9.559" height="28" fill="#ec7130"/><rect x="212.963" y="0" width="9.559" height="28" fill="#d24124"/><rect x="222.222" y="0" width="9.559" height="28" fill="#be281e"/><rect x="231.481" y="0" width="9.559" height="28" fill="#be281e"/><rect x="240.741" y="0" width="9.259" height="28" fill="#be281e"/><rect x="8.909" y="0" width="0.7" height="28" fill="#fff" fill-opacity="0.75"/><rect x="18.169" y="0" width="0.7" height="28" fill="#fff" fill-opacity="0.75"/><rect x="27.428" y="0" width="0.7" height="28" fill="#fff" fill-opacity="0.75"/><rect x="36.687" y="0" width="0.7" height="28" fill="#fff" fill-opacity="0.75"/><rect x="45.946" y="0" width="0.7" height="28" fill="#fff" fill-opacity="0.75"/><rect x="55.206" y="0" width="0.7" height="28" fill="#fff" fill-opacity="0.75"/><rect x="64.465" y="0" width="0.7" height="28" fill="#fff" fill-opacity="0.75"/><rect x="73.724" y="0" width="0.7" height="28" fill="#fff" fill-opacity="0.75"/><rect x="82.983" y="0" width="0.7" height="28" fill="#fff" fill-opacity="0.75"/><rect x="92.243" y="0" width="0.7" height="28" fill="#fff" fill-opacity="0.75"/><rect x="101.502" y="0" width="0.7" height="28" fill="#fff" fill-opacity="0.75"/><rect x="110.761" y="0" width="0.7" height="28" fill="#fff" fill-opacity="0.75"/><rect x="120.020" y="0" width="0.7" height="28" fill="#fff" fill-opacity="0.75"/><rect x="129.280" y="0" width="0.7" height="28" fill="#fff" fill-opacity="0.75"/><rect x="138.539" y="0" width="0.7" height="28" fill="#fff" fill-opacity="0.75"/><rect x="147.798" y="0" width="0.7" height="28" fill="#fff" fill-opacity="0.75"/><rect x="157.057" y="0" width="0.7" height="28" fill="#fff" fill-opacity="0.75"/><rect x="166.317" y="0" width="0.7" height="28" fill="#fff" fill-opacity="0.75"/><rect x="175.576" y="0" width="0.7" height="28" fill="#fff" fill-opacity="0.75"/><rect x="184.835" y="0" width="0.7" height="28" fill="#fff" fill-opacity="0.75"/><rect x="194.094" y="0" width="0.7" height="28" fill="#fff" fill-opacity="0.75"/><rect x="203.354" y="0" width="0.7" height="28" fill="#fff" fill-opacity="0.75"/><rect x="212.613" y="0" width="0.7" height="28" fill="#fff" fill-opacity="0.75"/><rect x="221.872" y="0" width="0.7" height="28" fill="#fff" fill-opacity="0.75"/><rect x="231.131" y="0" width="0.7" height="28" fill="#fff" fill-opacity="0.75"/><rect x="240.391" y="0" width="0.7" height="28" fill="#fff" fill-opacity="0.75"/></svg>
<div class="hl" style="top:612px;background:#e2e2e2"></div>
<div class="t" style="left:17.99px;top:638.50px;font-size:28px;line-height:28px;color:#2a2a2a;font-weight:normal;transform:scaleX(0.9558);transform-origin:left center;-webkit-text-stroke:0.15px #2a2a2a;">United States</div>
<div class="t" style="right:696.5px;top:638.50px;font-size:28px;line-height:28px;color:#2a2a2a;font-weight:normal;transform:scaleX(1.02);transform-origin:right center;-webkit-text-stroke:0.15px #2a2a2a;">4,050,094</div>
<div class="t" style="right:594px;top:640.19px;font-size:26px;line-height:26px;color:#999;font-weight:normal;transform:scaleX(1.03);transform-origin:right center;-webkit-text-stroke:0.15px #999;">1,238</div>
<div class="t" style="right:426.5px;top:638.50px;font-size:28px;line-height:28px;color:#2a2a2a;font-weight:normal;transform:scaleX(1.02);transform-origin:right center;-webkit-text-stroke:0.15px #2a2a2a;">460,505</div>
<div class="t" style="right:306px;top:640.19px;font-size:26px;line-height:26px;color:#999;font-weight:normal;transform:scaleX(1.03);transform-origin:right center;-webkit-text-stroke:0.15px #999;">141</div>
<svg class="bar" style="left:948px;top:634px" width="250" height="28" viewBox="0 0 250 28"><rect x="0.000" y="0" width="9.559" height="28" fill="#f1f1f1"/><rect x="9.259" y="0" width="9.559" height="28" fill="#f1f1f1"/><rect x="18.519" y="0" width="9.559" height="28" fill="#f1f1f1"/><rect x="27.778" y="0" width="9.559" height="28" fill="#f1f1f1"/><rect x="37.037" y="0" width="9.559" height="28" fill="#f1f1f1"/><rect x="46.296" y="0" width="9.559" height="28" fill="#f1f1f1"/><rect x="55.556" y="0" width="9.559" height="28" fill="#efde99"/><rect x="64.815" y="0" width="9.559" height="28" fill="#efde99"/><rect x="74.074" y="0" width="9.559" height="28" fill="#efde99"/><rect x="83.333" y="0" width="9.559" height="28" fill="#f1c274"/><rect x="92.593" y="0" width="9.559" height="28" fill="#ef8c40"/><rect x="101.852" y="0" width="9.559" height="28" fill="#ec7130"/><rect x="111.111" y="0" width="9.559" height="28" fill="#ec7130"/><rect x="120.370" y="0" width="9.559" height="28" fill="#ec7130"/><rect x="129.630" y="0" width="9.559" height="28" fill="#ec7130"/><rect x="138.889" y="0" width="9.559" height="28" fill="#ec7130"/><rect x="148.148" y="0" width="9.559" height="28" fill="#ef8c40"/><rect x="157.407" y="0" width="9.559" height="28" fill="#ef8c40"/><rect x="166.667" y="0" width="9.559" height="28" fill="#ef8c40"/><rect x="175.926" y="0" width="9.559" height="28" fill="#ef8c40"/><rect x="185.185" y="0" width="9.559" height="28" fill="#ef8c40"/><rect x="194.444" y="0" width="9.559" height="28" fill="#ef8c40"/><rect x="203.704" y="0" width="9.559" height="28" fill="#e05a2a"/><rect x="212.963" y="0" width="9.559" height="28" fill="#be281e"/><rect x="222.222" y="0" width="9.559" height="28" fill="#be281e"/><rect x="231.481" y="0" width="9.559" height="28" fill="#be281e"/><rect x="240.741" y="0" width="9.259" height="28" fill="#be281e"/><rect x="8.909" y="0" width="0.7" height="28" fill="#fff" fill-opacity="0.75"/><rect x="18.169" y="0" width="0.7" height="28" fill="#fff" fill-opacity="0.75"/><rect x="27.428" y="0" width="0.7" height="28" fill="#fff" fill-opacity="0.75"/><rect x="36.687" y="0" width="0.7" height="28" fill="#fff" fill-opacity="0.75"/><rect x="45.946" y="0" width="0.7" height="28" fill="#fff" fill-opacity="0.75"/><rect x="55.206" y="0" width="0.7" height="28" fill="#fff" fill-opacity="0.75"/><rect x="64.465" y="0" width="0.7" height="28" fill="#fff" fill-opacity="0.75"/><rect x="73.724" y="0" width="0.7" height="28" fill="#fff" fill-opacity="0.75"/><rect x="82.983" y="0" width="0.7" height="28" fill="#fff" fill-opacity="0.75"/><rect x="92.243" y="0" width="0.7" height="28" fill="#fff" fill-opacity="0.75"/><rect x="101.502" y="0" width="0.7" height="28" fill="#fff" fill-opacity="0.75"/><rect x="110.761" y="0" width="0.7" height="28" fill="#fff" fill-opacity="0.75"/><rect x="120.020" y="0" width="0.7" height="28" fill="#fff" fill-opacity="0.75"/><rect x="129.280" y="0" width="0.7" height="28" fill="#fff" fill-opacity="0.75"/><rect x="138.539" y="0" width="0.7" height="28" fill="#fff" fill-opacity="0.75"/><rect x="147.798" y="0" width="0.7" height="28" fill="#fff" fill-opacity="0.75"/><rect x="157.057" y="0" width="0.7" height="28" fill="#fff" fill-opacity="0.75"/><rect x="166.317" y="0" width="0.7" height="28" fill="#fff" fill-opacity="0.75"/><rect x="175.576" y="0" width="0.7" height="28" fill="#fff" fill-opacity="0.75"/><rect x="184.835" y="0" width="0.7" height="28" fill="#fff" fill-opacity="0.75"/><rect x="194.094" y="0" width="0.7" height="28" fill="#fff" fill-opacity="0.75"/><rect x="203.354" y="0" width="0.7" height="28" fill="#fff" fill-opacity="0.75"/><rect x="212.613" y="0" width="0.7" height="28" fill="#fff" fill-opacity="0.75"/><rect x="221.872" y="0" width="0.7" height="28" fill="#fff" fill-opacity="0.75"/><rect x="231.131" y="0" width="0.7" height="28" fill="#fff" fill-opacity="0.75"/><rect x="240.391" y="0" width="0.7" height="28" fill="#fff" fill-opacity="0.75"/></svg>
<div class="hl" style="top:694px;background:#e2e2e2"></div>
<div class="t" style="left:17.93px;top:720.50px;font-size:28px;line-height:28px;color:#2a2a2a;font-weight:normal;transform:scaleX(0.9354);transform-origin:left center;-webkit-text-stroke:0.15px #2a2a2a;">Israel</div>
<div class="t" style="right:696.5px;top:720.50px;font-size:28px;line-height:28px;color:#2a2a2a;font-weight:normal;transform:scaleX(1.02);transform-origin:right center;-webkit-text-stroke:0.15px #2a2a2a;">57,982</div>
<div class="t" style="right:594px;top:722.19px;font-size:26px;line-height:26px;color:#999;font-weight:normal;transform:scaleX(1.03);transform-origin:right center;-webkit-text-stroke:0.15px #999;">653</div>
<div class="t" style="right:426.5px;top:720.50px;font-size:28px;line-height:28px;color:#2a2a2a;font-weight:normal;transform:scaleX(1.02);transform-origin:right center;-webkit-text-stroke:0.15px #2a2a2a;">11,923</div>
<div class="t" style="right:306px;top:722.19px;font-size:26px;line-height:26px;color:#999;font-weight:normal;transform:scaleX(1.03);transform-origin:right center;-webkit-text-stroke:0.15px #999;">134</div>
<svg class="bar" style="left:948px;top:716px" width="250" height="28" viewBox="0 0 250 28"><rect x="0.000" y="0" width="9.559" height="28" fill="#f1f1f1"/><rect x="9.259" y="0" width="9.559" height="28" fill="#f1f1f1"/><rect x="18.519" y="0" width="9.559" height="28" fill="#f1f1f1"/><rect x="27.778" y="0" width="9.559" height="28" fill="#f1f1f1"/><rect x="37.037" y="0" width="9.559" height="28" fill="#f1f1f1"/><rect x="46.296" y="0" width="9.559" height="28" fill="#efde99"/><rect x="55.556" y="0" width="9.559" height="28" fill="#efde99"/><rect x="64.815" y="0" width="9.559" height="28" fill="#efde99"/><rect x="74.074" y="0" width="9.559" height="28" fill="#efde99"/><rect x="83.333" y="0" width="9.559" height="28" fill="#f1c274"/><rect x="92.593" y="0" width="9.559" height="28" fill="#ef8c40"/><rect x="101.852" y="0" width="9.559" height="28" fill="#f1aa56"/><rect x="111.111" y="0" width="9.559" height="28" fill="#f1aa56"/><rect x="120.370" y="0" width="9.559" height="28" fill="#f1c274"/><rect x="129.630" y="0" width="9.559" height="28" fill="#f1c274"/><rect x="138.889" y="0" width="9.559" height="28" fill="#efde99"/><rect x="148.148" y="0" width="9.559" height="28" fill="#efde99"/><rect x="157.407" y="0" width="9.559" height="28" fill="#efde99"/><rect x="166.667" y="0" width="9.559" height="28" fill="#efde99"/><rect x="175.926" y="0" width="9.559" height="28" fill="#efde99"/><rect x="185.185" y="0" width="9.559" height="28" fill="#efde99"/><rect x="194.444" y="0" width="9.559" height="28" fill="#f1c274"/><rect x="203.704" y="0" width="9.559" height="28" fill="#f1c274"/><rect x="212.963" y="0" width="9.559" height="28" fill="#ef8c40"/><rect x="222.222" y="0" width="9.559" height="28" fill="#d24124"/><rect x="231.481" y="0" width="9.559" height="28" fill="#be281e"/><rect x="240.741" y="0" width="9.259" height="28" fill="#be281e"/><rect x="8.909" y="0" width="0.7" height="28" fill="#fff" fill-opacity="0.75"/><rect x="18.169" y="0" width="0.7" height="28" fill="#fff" fill-opacity="0.75"/><rect x="27.428" y="0" width="0.7" height="28" fill="#fff" fill-opacity="0.75"/><rect x="36.687" y="0" width="0.7" height="28" fill="#fff" fill-opacity="0.75"/><rect x="45.946" y="0" width="0.7" height="28" fill="#fff" fill-opacity="0.75"/><rect x="55.206" y="0" width="0.7" height="28" fill="#fff" fill-opacity="0.75"/><rect x="64.465" y="0" width="0.7" height="28" fill="#fff" fill-opacity="0.75"/><rect x="73.724" y="0" width="0.7" height="28" fill="#fff" fill-opacity="0.75"/><rect x="82.983" y="0" width="0.7" height="28" fill="#fff" fill-opacity="0.75"/><rect x="92.243" y="0" width="0.7" height="28" fill="#fff" fill-opacity="0.75"/><rect x="101.502" y="0" width="0.7" height="28" fill="#fff" fill-opacity="0.75"/><rect x="110.761" y="0" width="0.7" height="28" fill="#fff" fill-opacity="0.75"/><rect x="120.020" y="0" width="0.7" height="28" fill="#fff" fill-opacity="0.75"/><rect x="129.280" y="0" width="0.7" height="28" fill="#fff" fill-opacity="0.75"/><rect x="138.539" y="0" width="0.7" height="28" fill="#fff" fill-opacity="0.75"/><rect x="147.798" y="0" width="0.7" height="28" fill="#fff" fill-opacity="0.75"/><rect x="157.057" y="0" width="0.7" height="28" fill="#fff" fill-opacity="0.75"/><rect x="166.317" y="0" width="0.7" height="28" fill="#fff" fill-opacity="0.75"/><rect x="175.576" y="0" width="0.7" height="28" fill="#fff" fill-opacity="0.75"/><rect x="184.835" y="0" width="0.7" height="28" fill="#fff" fill-opacity="0.75"/><rect x="194.094" y="0" width="0.7" height="28" fill="#fff" fill-opacity="0.75"/><rect x="203.354" y="0" width="0.7" height="28" fill="#fff" fill-opacity="0.75"/><rect x="212.613" y="0" width="0.7" height="28" fill="#fff" fill-opacity="0.75"/><rect x="221.872" y="0" width="0.7" height="28" fill="#fff" fill-opacity="0.75"/><rect x="231.131" y="0" width="0.7" height="28" fill="#fff" fill-opacity="0.75"/><rect x="240.391" y="0" width="0.7" height="28" fill="#fff" fill-opacity="0.75"/></svg>
<div class="hl" style="top:772px;background:#e2e2e2"></div>
<div class="t" style="left:18.02px;top:798.50px;font-size:28px;line-height:28px;color:#2a2a2a;font-weight:normal;transform:scaleX(0.9424);transform-origin:left center;-webkit-text-stroke:0.15px #2a2a2a;">Brazil</div>
<div class="t" style="right:696.5px;top:798.50px;font-size:28px;line-height:28px;color:#2a2a2a;font-weight:normal;transform:scaleX(1.02);transform-origin:right center;-webkit-text-stroke:0.15px #2a2a2a;">2,287,475</div>
<div class="t" style="right:594px;top:800.19px;font-size:26px;line-height:26px;color:#999;font-weight:normal;transform:scaleX(1.03);transform-origin:right center;-webkit-text-stroke:0.15px #999;">1,092</div>
<div class="t" style="right:426.5px;top:798.50px;font-size:28px;line-height:28px;color:#2a2a2a;font-weight:normal;transform:scaleX(1.02);transform-origin:right center;-webkit-text-stroke:0.15px #2a2a2a;">275,324</div>
<div class="t" style="right:306px;top:800.19px;font-size:26px;line-height:26px;color:#999;font-weight:normal;transform:scaleX(1.03);transform-origin:right center;-webkit-text-stroke:0.15px #999;">131</div>
<svg class="bar" style="left:948px;top:794px" width="250" height="28" viewBox="0 0 250 28"><rect x="0.000" y="0" width="9.559" height="28" fill="#f1f1f1"/><rect x="9.259" y="0" width="9.559" height="28" fill="#f1f1f1"/><rect x="18.519" y="0" width="9.559" height="28" fill="#f1f1f1"/><rect x="27.778" y="0" width="9.559" height="28" fill="#f1f1f1"/><rect x="37.037" y="0" width="9.559" height="28" fill="#f1f1f1"/><rect x="46.296" y="0" width="9.559" height="28" fill="#efde99"/><rect x="55.556" y="0" width="9.559" height="28" fill="#efde99"/><rect x="64.815" y="0" width="9.559" height="28" fill="#efde99"/><rect x="74.074" y="0" width="9.559" height="28" fill="#efde99"/><rect x="83.333" y="0" width="9.559" height="28" fill="#efde99"/><rect x="92.593" y="0" width="9.559" height="28" fill="#efde99"/><rect x="101.852" y="0" width="9.559" height="28" fill="#efde99"/><rect x="111.111" y="0" width="9.559" height="28" fill="#efde99"/><rect x="120.370" y="0" width="9.559" height="28" fill="#efde99"/><rect x="129.630" y="0" width="9.559" height="28" fill="#f1c274"/><rect x="138.889" y="0" width="9.559" height="28" fill="#f1c274"/><rect x="148.148" y="0" width="9.559" height="28" fill="#f1aa56"/><rect x="157.407" y="0" width="9.559" height="28" fill="#ef8c40"/><rect x="166.667" y="0" width="9.559" height="28" fill="#ec7130"/><rect x="175.926" y="0" width="9.559" height="28" fill="#d24124"/><rect x="185.185" y="0" width="9.559" height="28" fill="#d24124"/><rect x="194.444" y="0" width="9.559" height="28" fill="#e05a2a"/><rect x="203.704" y="0" width="9.559" height="28" fill="#be281e"/><rect x="212.963" y="0" width="9.559" height="28" fill="#be281e"/><rect x="222.222" y="0" width="9.559" height="28" fill="#be281e"/><rect x="231.481" y="0" width="9.559" height="28" fill="#be281e"/><rect x="240.741" y="0" width="9.259" height="28" fill="#be281e"/><rect x="8.909" y="0" width="0.7" height="28" fill="#fff" fill-opacity="0.75"/><rect x="18.169" y="0" width="0.7" height="28" fill="#fff" fill-opacity="0.75"/><rect x="27.428" y="0" width="0.7" height="28" fill="#fff" fill-opacity="0.75"/><rect x="36.687" y="0" width="0.7" height="28" fill="#fff" fill-opacity="0.75"/><rect x="45.946" y="0" width="0.7" height="28" fill="#fff" fill-opacity="0.75"/><rect x="55.206" y="0" width="0.7" height="28" fill="#fff" fill-opacity="0.75"/><rect x="64.465" y="0" width="0.7" height="28" fill="#fff" fill-opacity="0.75"/><rect x="73.724" y="0" width="0.7" height="28" fill="#fff" fill-opacity="0.75"/><rect x="82.983" y="0" width="0.7" height="28" fill="#fff" fill-opacity="0.75"/><rect x="92.243" y="0" width="0.7" height="28" fill="#fff" fill-opacity="0.75"/><rect x="101.502" y="0" width="0.7" height="28" fill="#fff" fill-opacity="0.75"/><rect x="110.761" y="0" width="0.7" height="28" fill="#fff" fill-opacity="0.75"/><rect x="120.020" y="0" width="0.7" height="28" fill="#fff" fill-opacity="0.75"/><rect x="129.280" y="0" width="0.7" height="28" fill="#fff" fill-opacity="0.75"/><rect x="138.539" y="0" width="0.7" height="28" fill="#fff" fill-opacity="0.75"/><rect x="147.798" y="0" width="0.7" height="28" fill="#fff" fill-opacity="0.75"/><rect x="157.057" y="0" width="0.7" height="28" fill="#fff" fill-opacity="0.75"/><rect x="166.317" y="0" width="0.7" height="28" fill="#fff" fill-opacity="0.75"/><rect x="175.576" y="0" width="0.7" height="28" fill="#fff" fill-opacity="0.75"/><rect x="184.835" y="0" width="0.7" height="28" fill="#fff" fill-opacity="0.75"/><rect x="194.094" y="0" width="0.7" height="28" fill="#fff" fill-opacity="0.75"/><rect x="203.354" y="0" width="0.7" height="28" fill="#fff" fill-opacity="0.75"/><rect x="212.613" y="0" width="0.7" height="28" fill="#fff" fill-opacity="0.75"/><rect x="221.872" y="0" width="0.7" height="28" fill="#fff" fill-opacity="0.75"/><rect x="231.131" y="0" width="0.7" height="28" fill="#fff" fill-opacity="0.75"/><rect x="240.391" y="0" width="0.7" height="28" fill="#fff" fill-opacity="0.75"/></svg>
<div class="hl" style="top:854px;background:#e2e2e2"></div>
<div class="t" style="left:17.99px;top:880.50px;font-size:28px;line-height:28px;color:#2a2a2a;font-weight:normal;transform:scaleX(0.9559);transform-origin:left center;-webkit-text-stroke:0.15px #2a2a2a;">Luxembourg</div>
<div class="t" style="right:696.5px;top:880.50px;font-size:28px;line-height:28px;color:#2a2a2a;font-weight:normal;transform:scaleX(1.02);transform-origin:right center;-webkit-text-stroke:0.15px #2a2a2a;">5,952</div>
<div class="t" style="right:594px;top:882.19px;font-size:26px;line-height:26px;color:#999;font-weight:normal;transform:scaleX(1.03);transform-origin:right center;-webkit-text-stroke:0.15px #999;">979</div>
<div class="t" style="right:426.5px;top:880.50px;font-size:28px;line-height:28px;color:#2a2a2a;font-weight:normal;transform:scaleX(1.02);transform-origin:right center;-webkit-text-stroke:0.15px #2a2a2a;">667</div>
<div class="t" style="right:306px;top:882.19px;font-size:26px;line-height:26px;color:#999;font-weight:normal;transform:scaleX(1.03);transform-origin:right center;-webkit-text-stroke:0.15px #999;">110</div>
<svg class="bar" style="left:948px;top:876px" width="250" height="28" viewBox="0 0 250 28"><rect x="0.000" y="0" width="9.559" height="28" fill="#f1f1f1"/><rect x="9.259" y="0" width="9.559" height="28" fill="#f1f1f1"/><rect x="18.519" y="0" width="9.559" height="28" fill="#f1f1f1"/><rect x="27.778" y="0" width="9.559" height="28" fill="#f1f1f1"/><rect x="37.037" y="0" width="9.559" height="28" fill="#f1f1f1"/><rect x="46.296" y="0" width="9.559" height="28" fill="#f1f1f1"/><rect x="55.556" y="0" width="9.559" height="28" fill="#efde99"/><rect x="64.815" y="0" width="9.559" height="28" fill="#efde99"/><rect x="74.074" y="0" width="9.559" height="28" fill="#ef8c40"/><rect x="83.333" y="0" width="9.559" height="28" fill="#be281e"/><rect x="92.593" y="0" width="9.559" height="28" fill="#be281e"/><rect x="101.852" y="0" width="9.559" height="28" fill="#be281e"/><rect x="111.111" y="0" width="9.559" height="28" fill="#ef8c40"/><rect x="120.370" y="0" width="9.559" height="28" fill="#f1aa56"/><rect x="129.630" y="0" width="9.559" height="28" fill="#f1c274"/><rect x="138.889" y="0" width="9.559" height="28" fill="#efde99"/><rect x="148.148" y="0" width="9.559" height="28" fill="#efde99"/><rect x="157.407" y="0" width="9.559" height="28" fill="#efde99"/><rect x="166.667" y="0" width="9.559" height="28" fill="#efde99"/><rect x="175.926" y="0" width="9.559" height="28" fill="#efde99"/><rect x="185.185" y="0" width="9.559" height="28" fill="#efde99"/><rect x="194.444" y="0" width="9.559" height="28" fill="#efde99"/><rect x="203.704" y="0" width="9.559" height="28" fill="#efde99"/><rect x="212.963" y="0" width="9.559" height="28" fill="#f1aa56"/><rect x="222.222" y="0" width="9.559" height="28" fill="#ef8c40"/><rect x="231.481" y="0" width="9.559" height="28" fill="#d24124"/><rect x="240.741" y="0" width="9.259" height="28" fill="#be281e"/><rect x="8.909" y="0" width="0.7" height="28" fill="#fff" fill-opacity="0.75"/><rect x="18.169" y="0" width="0.7" height="28" fill="#fff" fill-opacity="0.75"/><rect x="27.428" y="0" width="0.7" height="28" fill="#fff" fill-opacity="0.75"/><rect x="36.687" y="0" width="0.7" height="28" fill="#fff" fill-opacity="0.75"/><rect x="45.946" y="0" width="0.7" height="28" fill="#fff" fill-opacity="0.75"/><rect x="55.206" y="0" width="0.7" height="28" fill="#fff" fill-opacity="0.75"/><rect x="64.465" y="0" width="0.7" height="28" fill="#fff" fill-opacity="0.75"/><rect x="73.724" y="0" width="0.7" height="28" fill="#fff" fill-opacity="0.75"/><rect x="82.983" y="0" width="0.7" height="28" fill="#fff" fill-opacity="0.75"/><rect x="92.243" y="0" width="0.7" height="28" fill="#fff" fill-opacity="0.75"/><rect x="101.502" y="0" width="0.7" height="28" fill="#fff" fill-opacity="0.75"/><rect x="110.761" y="0" width="0.7" height="28" fill="#fff" fill-opacity="0.75"/><rect x="120.020" y="0" width="0.7" height="28" fill="#fff" fill-opacity="0.75"/><rect x="129.280" y="0" width="0.7" height="28" fill="#fff" fill-opacity="0.75"/><rect x="138.539" y="0" width="0.7" height="28" fill="#fff" fill-opacity="0.75"/><rect x="147.798" y="0" width="0.7" height="28" fill="#fff" fill-opacity="0.75"/><rect x="157.057" y="0" width="0.7" height="28" fill="#fff" fill-opacity="0.75"/><rect x="166.317" y="0" width="0.7" height="28" fill="#fff" fill-opacity="0.75"/><rect x="175.576" y="0" width="0.7" height="28" fill="#fff" fill-opacity="0.75"/><rect x="184.835" y="0" width="0.7" height="28" fill="#fff" fill-opacity="0.75"/><rect x="194.094" y="0" width="0.7" height="28" fill="#fff" fill-opacity="0.75"/><rect x="203.354" y="0" width="0.7" height="28" fill="#fff" fill-opacity="0.75"/><rect x="212.613" y="0" width="0.7" height="28" fill="#fff" fill-opacity="0.75"/><rect x="221.872" y="0" width="0.7" height="28" fill="#fff" fill-opacity="0.75"/><rect x="231.131" y="0" width="0.7" height="28" fill="#fff" fill-opacity="0.75"/><rect x="240.391" y="0" width="0.7" height="28" fill="#fff" fill-opacity="0.75"/></svg>
<div class="t" style="left:185.3px;top:643.31px;font-size:23.5px;line-height:23.5px;color:#31618f;font-weight:normal;transform:scaleX(0.84);transform-origin:left center;"><span class="map">MAP</span>&nbsp;<b>&raquo;</b></div>
<div class="t" style="left:91.1px;top:803.31px;font-size:23.5px;line-height:23.5px;color:#31618f;font-weight:normal;transform:scaleX(0.84);transform-origin:left center;"><span class="map">MAP</span>&nbsp;<b>&raquo;</b></div>
<div class="t" style="left:947.2px;top:196.85px;font-size:20.5px;line-height:20.5px;color:#999;font-weight:normal;transform:scaleX(0.925);transform-origin:left center;-webkit-text-stroke:0.4px #999;">Jan. 22</div>
<div class="t" style="right:18.700000000000045px;top:196.85px;font-size:20.5px;line-height:20.5px;color:#999;font-weight:normal;transform:scaleX(0.925);transform-origin:right center;-webkit-text-stroke:0.4px #999;">July 23</div>
</body></html>
